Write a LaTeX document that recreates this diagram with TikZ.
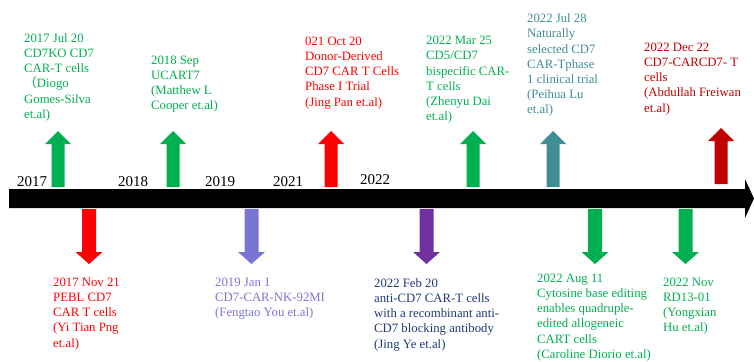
\documentclass[tikz,border=0pt]{standalone}
\usepackage{fontspec}
\setmainfont{Liberation Serif}
\newfontfamily\cjk{Noto Sans CJK SC}
\definecolor{tlgreen}{HTML}{00B050}
\definecolor{tlred}{HTML}{FF0000}
\definecolor{tldarkred}{HTML}{C00000}
\definecolor{tlteal}{RGB}{62,142,148}
\definecolor{tllav}{RGB}{120,118,210}
\definecolor{tlpurple}{HTML}{7030A0}
\definecolor{tlnavy}{RGB}{32,56,120}
\tikzset{
  lbl/.style={anchor=north west, inner sep=0pt, align=left,
    font=\fontsize{12.75}{15.2}\selectfont},
  yearlbl/.style={anchor=base west, inner sep=0pt,
    font=\fontsize{15}{18}\selectfont},
  uparr/.pic={\fill (-6.5,0) -- (-6.5,-43) -- (-13,-43) -- (0,-56) -- (13,-43) -- (6.5,-43) -- (6.5,0) -- cycle;},
  downarr/.pic={\fill (-7,0) -- (-7,43) -- (-13.5,43) -- (0,55) -- (13.5,43) -- (7,43) -- (7,0) -- cycle;}
}
\newcommand{\fl}{\rule{0pt}{10pt}}
\begin{document}
\begin{tikzpicture}[x=1pt,y=-1pt]
\useasboundingbox (0,0) rectangle (754,361);
% timeline
\fill[black] (9,189) -- (745,189) -- (745,179) -- (754,198.5) -- (745,218) -- (745,208) -- (9,208) -- cycle;
% years
\node[yearlbl] (y2017) at (17,186) {2017};
\node[yearlbl] (y2018) at (118,186) {2018};
\node[yearlbl] (y2019) at (205,186) {2019};
\node[yearlbl] (y2021) at (273,186) {2021};
\node[yearlbl] (y2022) at (360,184) {2022};
% up arrows
\pic[tlgreen] at (58,187) {uparr};
\pic[tlgreen] at (173,187) {uparr};
\pic[tlred] at (331,187) {uparr};
\pic[tlgreen] at (473,187) {uparr};
\pic[tlteal] at (553,187) {uparr};
\pic[tldarkred] at (721,184) {uparr};
% down arrows
\pic[tlred] at (89,209) {downarr};
\pic[tllav] at (251.5,209) {downarr};
\pic[tlpurple] at (426.5,209) {downarr};
\pic[tlgreen] at (595,209) {downarr};
\pic[tlgreen] at (685.5,209) {downarr};
% top labels
\node[lbl, text=tlgreen] (t1) at (24,32) {\fl 2017 Jul 20\\CD7KO CD7\\CAR-T cells\\{\cjk （}Diogo\\Gomes-Silva\\et.al)};
\node[lbl, text=tlgreen] (t2) at (151,54) {\fl 2018 Sep\\UCART7\\(Matthew L\\Cooper et.al)};
\node[lbl, text=tlred] (t3) at (305,35) {\fl 021 Oct 20\\Donor-Derived\\CD7 CAR T Cells\\Phase I Trial\\(Jing Pan et.al)};
\node[lbl, text=tlgreen] (t4) at (426,34.5) {\fl 2022 Mar 25\\CD5/CD7\\bispecific CAR-\\T cells\\(Zhenyu Dai\\et.al)};
\node[lbl, text=tlteal] (t5) at (527,12.5) {\fl 2022 Jul 28\\Naturally\\selected CD7\\CAR-Tphase\\1 clinical trial\\(Peihua Lu\\et.al)};
\node[lbl, text=tldarkred] (t6) at (644,41) {\fl 2022 Dec 22\\CD7-CARCD7- T\\cells\\(Abdullah Freiwan\\et.al)};
% bottom labels
\node[lbl, text=tlred] (b1) at (53,276) {\fl 2017 Nov 21\\PEBL CD7\\CAR T cells\\(Yi Tian Png\\et.al)};
\node[lbl, text=tllav] (b2) at (215,276) {\fl 2019 Jan 1\\CD7-CAR-NK-92MI\\(Fengtao You et.al)};
\node[lbl, text=tlnavy] (b3) at (374,277) {\fl 2022 Feb 20\\anti-CD7 CAR-T cells\\with a recombinant anti-\\CD7 blocking antibody\\(Jing Ye et.al)};
\node[lbl, text=tlgreen] (b4) at (537,272) {\fl 2022 Aug 11\\Cytosine base editing\\enables quadruple-\\edited allogeneic\\CART cells\\(Caroline Diorio et.al)};
\node[lbl, text=tlgreen] (b5) at (663,276) {\fl 2022 Nov\\RD13-01\\(Yongxian\\Hu et.al)};
\end{tikzpicture}
\end{document}
